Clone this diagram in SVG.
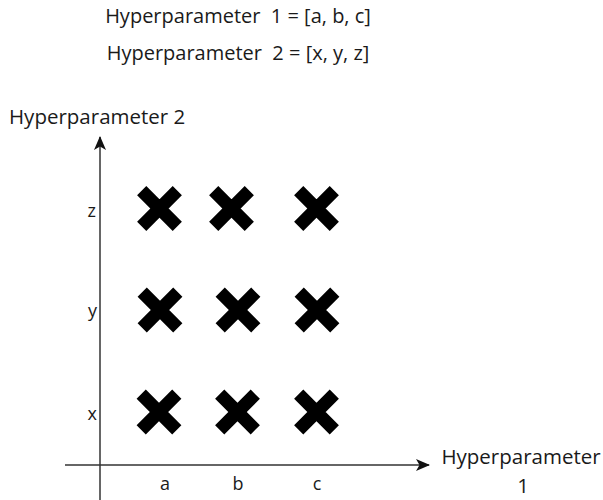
<svg xmlns="http://www.w3.org/2000/svg" width="603" height="500" viewBox="0 0 603 500">
<style>
  text { font-family: "Open Sans", "Liberation Sans", sans-serif; fill: #1a1a1a; white-space: pre; }
  .title { font-size: 20px; }
  .lbl { font-size: 20.5px; }
  .tick { font-size: 18px; }
  .axis { stroke: #333; stroke-width: 1.5; fill: none; }
  .x { stroke: #000; stroke-width: 13; stroke-linecap: butt; fill: none; }
</style>
<defs>
  <marker id="arr" viewBox="0 0 14 12" refX="13" refY="6" markerWidth="14" markerHeight="12" markerUnits="userSpaceOnUse" orient="auto">
    <path d="M0,0 L14,6 L0,12 L3.5,6 Z" fill="#111"/>
  </marker>
  <g id="cross">
    <path class="x" d="M-17.8,-17.8 L17.8,17.8 M17.8,-17.8 L-17.8,17.8"/>
  </g>
</defs>
<g id="title">
  <text class="title" x="238" y="23" text-anchor="middle">Hyperparameter  1 = [a, b, c]</text>
  <text class="title" x="238" y="60" text-anchor="middle">Hyperparameter  2 = [x, y, z]</text>
</g>
<g id="connectors">
  <line class="axis" x1="100" y1="500" x2="100" y2="137" marker-end="url(#arr)"/>
  <line class="axis" x1="65" y1="465" x2="429" y2="465" marker-end="url(#arr)"/>
</g>
<g id="y-axis-label"><text class="lbl" x="9" y="124">Hyperparameter 2</text></g>
<g id="x-axis-label">
  <text class="lbl" x="521" y="464" text-anchor="middle">Hyperparameter</text>
  <text class="lbl" x="523" y="493" text-anchor="middle">1</text>
</g>
<g id="y-ticks">
  <text class="tick" x="96" y="217" text-anchor="end">z</text>
  <text class="tick" x="97" y="317" text-anchor="end">y</text>
  <text class="tick" x="97" y="420" text-anchor="end">x</text>
</g>
<g id="x-ticks">
  <text class="tick" x="165" y="490" text-anchor="middle">a</text>
  <text class="tick" x="238" y="490" text-anchor="middle">b</text>
  <text class="tick" x="317" y="490" text-anchor="middle">c</text>
</g>
<g id="points">
  <use href="#cross" x="159.5" y="208.5"/>
  <use href="#cross" x="231.5" y="208.5"/>
  <use href="#cross" x="316.5" y="208.5"/>
  <use href="#cross" x="160" y="310"/>
  <use href="#cross" x="238" y="310"/>
  <use href="#cross" x="317" y="310"/>
  <use href="#cross" x="159" y="412"/>
  <use href="#cross" x="237.5" y="412"/>
  <use href="#cross" x="316.5" y="412"/>
</g>
</svg>
